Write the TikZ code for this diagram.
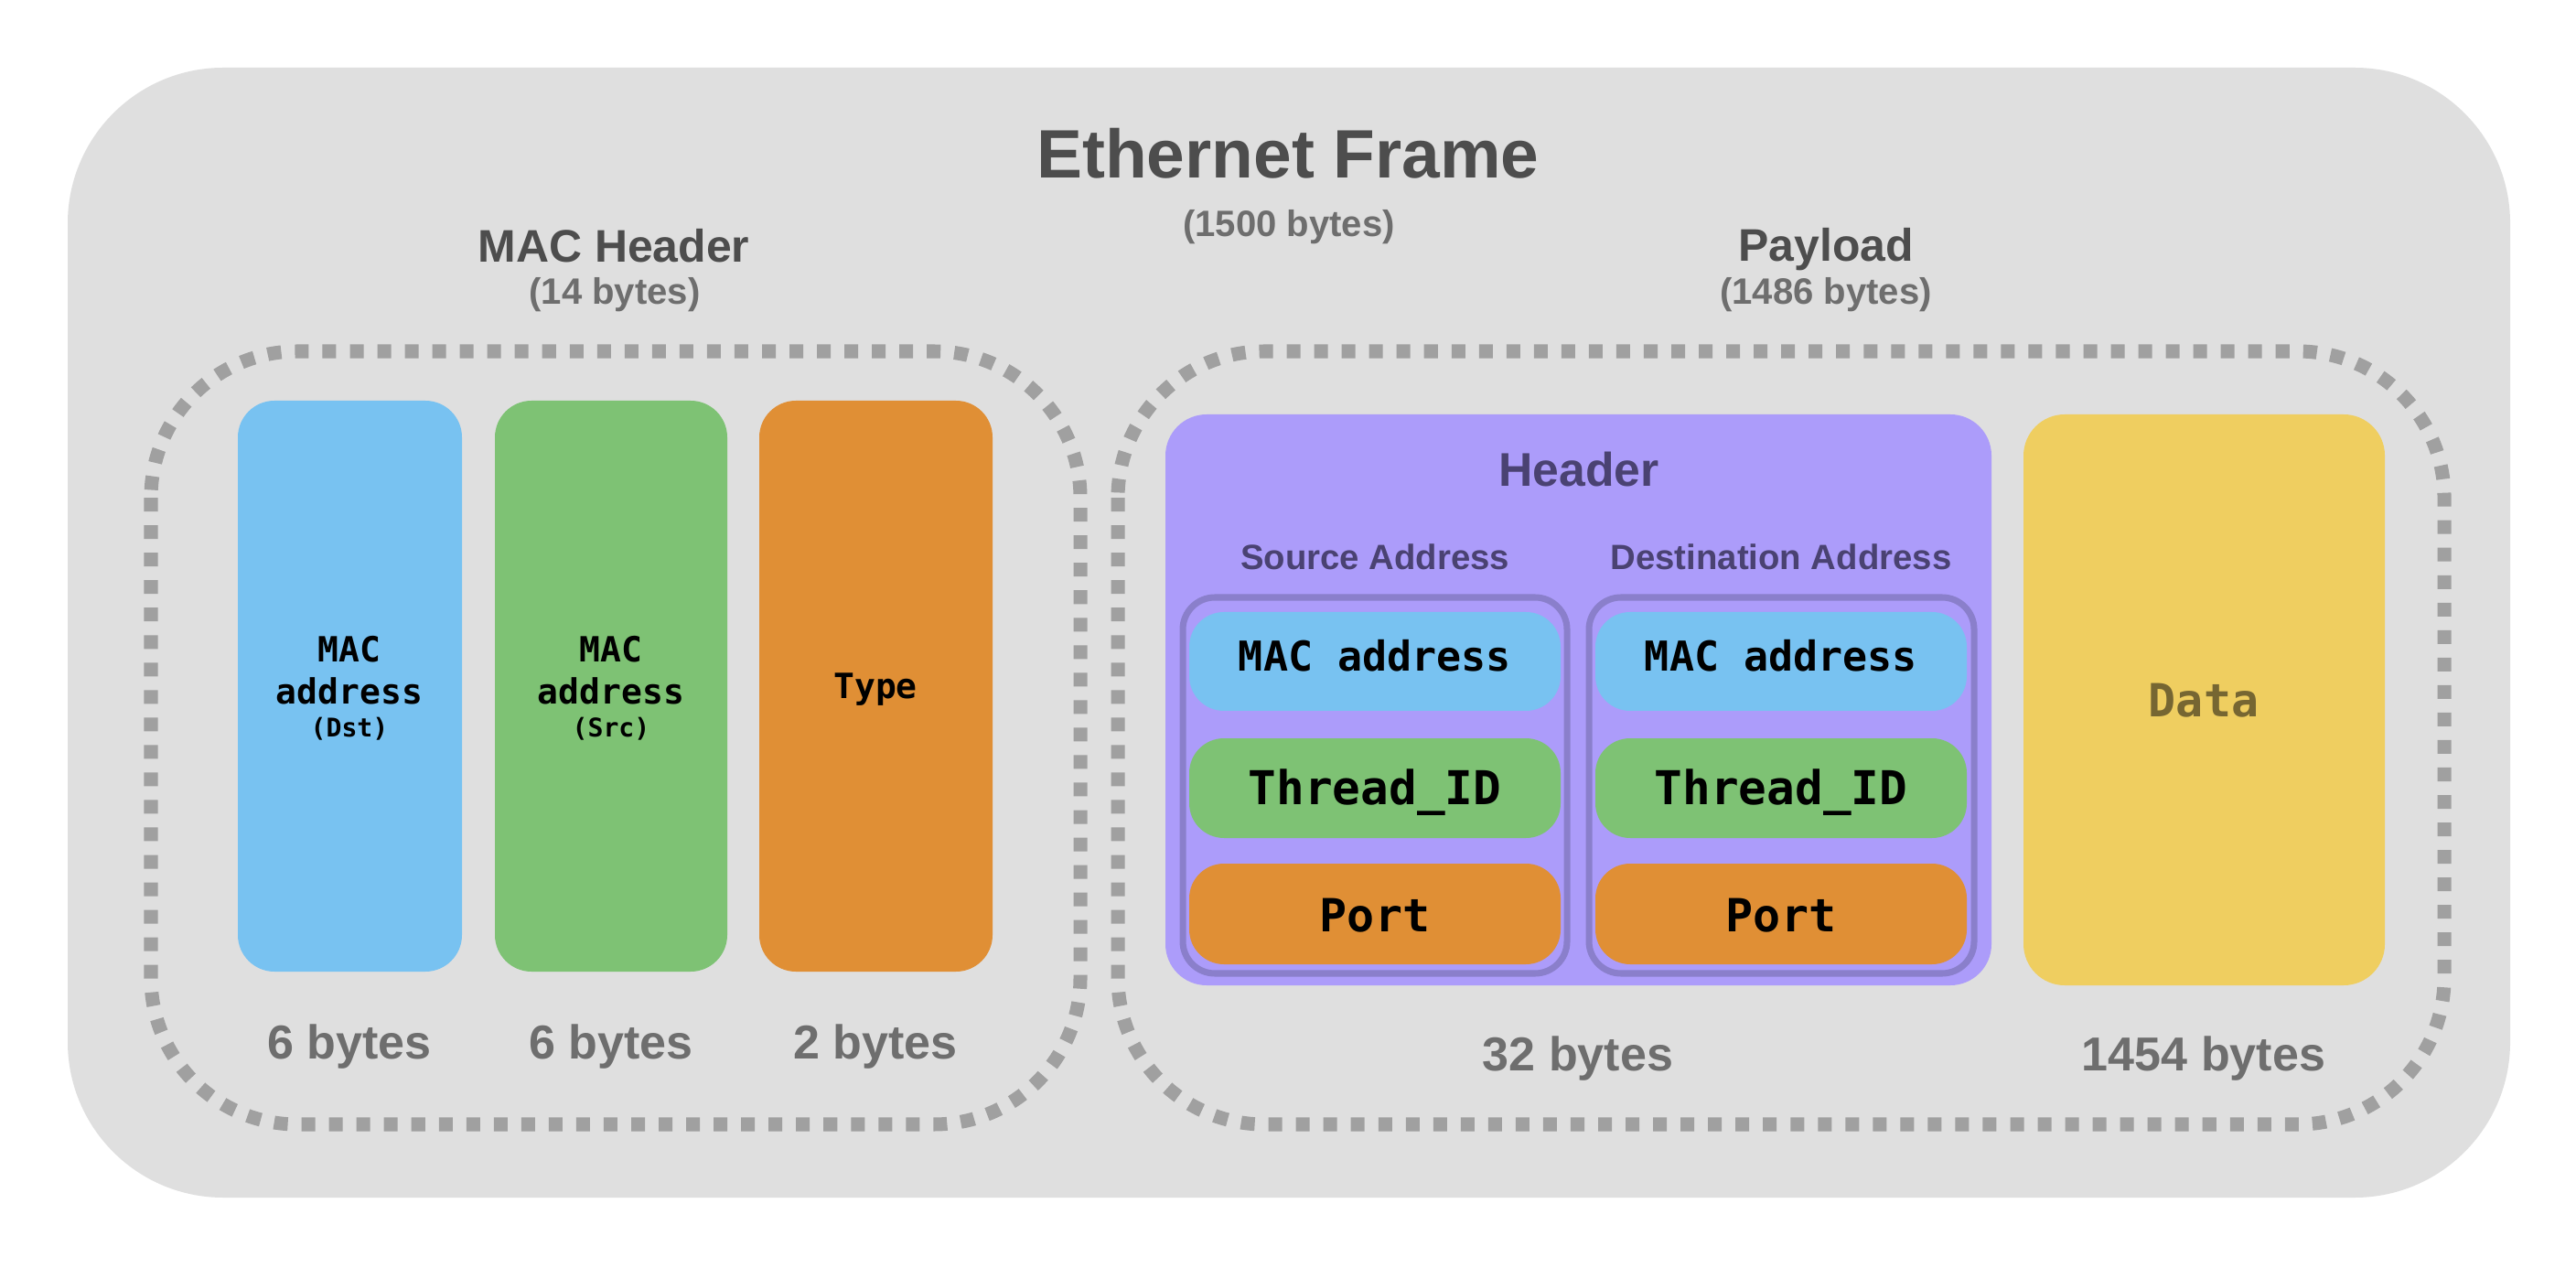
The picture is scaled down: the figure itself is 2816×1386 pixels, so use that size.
\documentclass[tikz,border=0pt]{standalone}
\usepackage{fontspec}
\setmainfont{Liberation Sans}
\newfontfamily\monof{DejaVu Sans Mono}
\definecolor{framegray}{HTML}{DFDFDF}
\definecolor{dotgray}{HTML}{A0A0A0}
\definecolor{titlegray}{HTML}{4D4D4D}
\definecolor{subgray}{HTML}{6E6E6E}
\definecolor{cblue}{HTML}{78C2F1}
\definecolor{cgreen}{HTML}{7EC274}
\definecolor{corange}{HTML}{E08F35}
\definecolor{cpurple}{HTML}{AC9CFA}
\definecolor{cpurpleline}{HTML}{8A7FCB}
\definecolor{cpurpletext}{HTML}{4A4272}
\definecolor{cyellow}{HTML}{EFCE60}
\definecolor{cyellowtext}{HTML}{766632}
\tikzset{
  dotbox/.style={draw=dotgray, line width=4.27pt, dash pattern=on 4.27pt off 4.27pt, rounded corners=1.6cm},
  tallbox/.style={rounded corners=0.4cm},
  pill/.style={rounded corners=0.38cm},
  inbox/.style={draw=cpurpleline, line width=2pt, rounded corners=0.35cm},
  lbl/.style={anchor=base, inner sep=0pt},
  sans/.style={lbl, font=\bfseries\fontsize{#1}{#1}\selectfont},
  mono/.style={lbl, font=\monof\bfseries\fontsize{#1}{#1}\selectfont},
}
\begin{document}
\begin{tikzpicture}[x=0.01cm,y=-0.01cm]
\useasboundingbox (0,0) rectangle (2816,1386);
\fill[white] (0,0) rectangle (2816,1386);
% outer frame
\fill[framegray, rounded corners=1.7cm] (74,74) rectangle (2744,1309);
% dotted groups
\draw[dotbox] (165,384) rectangle (1181,1229);
\draw[dotbox] (1222,384) rectangle (2672,1229);
% titles
\node[sans=21.3, text=titlegray] (title) at (1408,195) {Ethernet Frame};
\node[sans=11.4, text=subgray] (titlesz) at (1409,259) {(1500 bytes)};
\node[sans=14.2, text=titlegray] (machdr) at (671,287) {MAC Header};
\node[sans=11.4, text=subgray] (machdrsz) at (672,333) {(14 bytes)};
\node[sans=14.2, text=titlegray] (payload) at (1996,286) {Payload};
\node[sans=11.4, text=subgray] (payloadsz) at (1996,333) {(1486 bytes)};
% MAC header fields
\fill[cblue, tallbox] (260,438) rectangle (505,1062);
\fill[cgreen, tallbox] (541,438) rectangle (795,1062);
\fill[corange, tallbox] (830,438) rectangle (1085,1062);
\node[mono=10.8] (dst1) at (382,724) {MAC};
\node[mono=10.8] (dst2) at (382,769) {address};
\node[mono=8] (dst3) at (382,805) {(Dst)};
\node[mono=10.8] (src1) at (668,724) {MAC};
\node[mono=10.8] (src2) at (668,769) {address};
\node[mono=8] (src3) at (668,805) {(Src)};
\node[mono=10.8] (type) at (957,764) {Type};
\node[sans=14.8, text=subgray] (b6a) at (382,1157) {6 bytes};
\node[sans=14.8, text=subgray] (b6b) at (668,1157) {6 bytes};
\node[sans=14.8, text=subgray] (b2) at (957,1157) {2 bytes};
% payload header
\fill[cpurple, rounded corners=0.45cm] (1274,453) rectangle (2177,1077);
\node[sans=14.7, text=cpurpletext] (hdr) at (1726,532) {Header};
\node[sans=10.9, text=cpurpletext] (srcaddr) at (1503,623) {Source Address};
\node[sans=10.9, text=cpurpletext] (dstaddr) at (1947,623) {Destination Address};
\draw[inbox] (1293,653) rectangle (1713,1064);
\draw[inbox] (1737,653) rectangle (2158,1064);
\fill[cblue, pill] (1300,669) rectangle (1706,777);
\fill[cgreen, pill] (1300,807) rectangle (1706,916);
\fill[corange, pill] (1300,944) rectangle (1706,1054);
\fill[cblue, pill] (1744,669) rectangle (2150,777);
\fill[cgreen, pill] (1744,807) rectangle (2150,916);
\fill[corange, pill] (1744,944) rectangle (2150,1054);
\node[mono=12.8] (smac) at (1503,734) {MAC address};
\node[mono=14.5] (sthr) at (1503,879) {Thread\_ID};
\node[mono=14.2] (sport) at (1503,1018) {Port};
\node[mono=12.8] (dmac) at (1947,734) {MAC address};
\node[mono=14.5] (dthr) at (1947,879) {Thread\_ID};
\node[mono=14.2] (dport) at (1947,1018) {Port};
% data
\fill[cyellow, rounded corners=0.45cm] (2212,453) rectangle (2607,1077);
\node[mono=14.2, text=cyellowtext] (data) at (2409,784) {Data};
\node[sans=14.8, text=subgray] (b32) at (1725,1170) {32 bytes};
\node[sans=14.8, text=subgray] (b1454) at (2409,1170) {1454 bytes};
\end{tikzpicture}
\end{document}
